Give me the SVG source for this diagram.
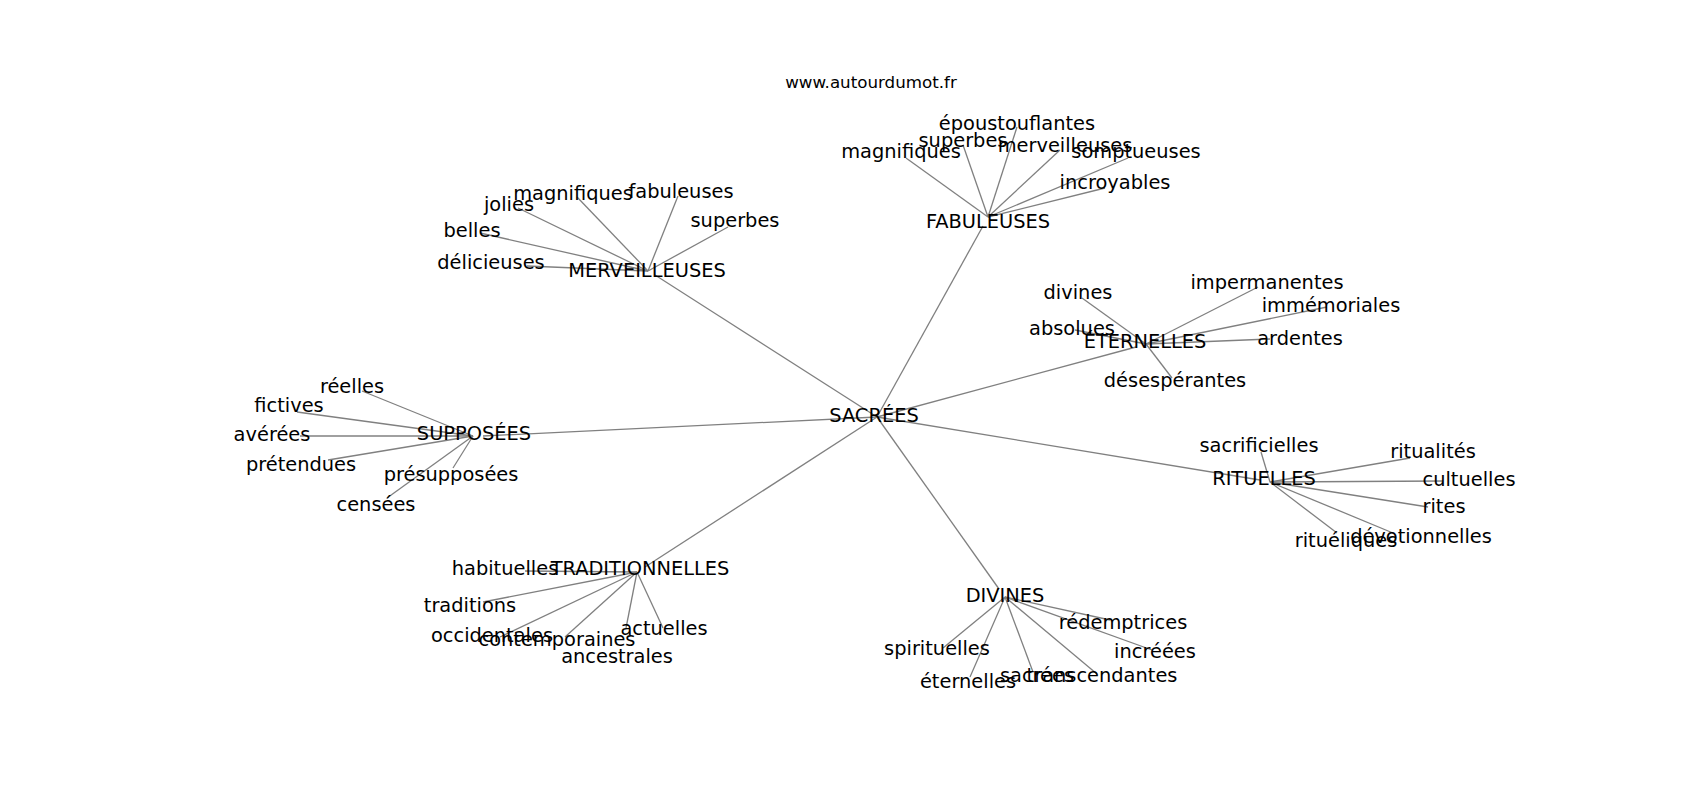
<svg xmlns="http://www.w3.org/2000/svg" width="1700" height="800" viewBox="0 0 1700 800">
<style>
.e{stroke:#808080;stroke-width:1.3;fill:none}
text{font-family:"DejaVu Sans","Liberation Sans",sans-serif;font-size:19.4px;fill:#000;text-anchor:middle}
.t{font-size:16.7px}
</style>
<rect width="1700" height="800" fill="#fff"/>
<g id="connectors">
<line class="e" x1="877" y1="417" x2="655" y2="275"/>
<line class="e" x1="877" y1="417" x2="983" y2="226"/>
<line class="e" x1="877" y1="417" x2="1136" y2="347"/>
<line class="e" x1="877" y1="417" x2="1260" y2="480"/>
<line class="e" x1="877" y1="417" x2="999" y2="589"/>
<line class="e" x1="877" y1="417" x2="645" y2="567"/>
<line class="e" x1="877" y1="417" x2="483" y2="436"/>
<!-- MERVEILLEUSES -->
<line class="e" x1="648" y1="271" x2="527" y2="266"/>
<line class="e" x1="648" y1="271" x2="480" y2="233"/>
<line class="e" x1="648" y1="271" x2="518" y2="208"/>
<line class="e" x1="648" y1="271" x2="577" y2="197"/>
<line class="e" x1="648" y1="271" x2="678" y2="196"/>
<line class="e" x1="648" y1="271" x2="728" y2="227"/>
<!-- FABULEUSES -->
<line class="e" x1="988" y1="217" x2="906" y2="158"/>
<line class="e" x1="988" y1="217" x2="963" y2="145"/>
<line class="e" x1="988" y1="217" x2="1017" y2="127"/>
<line class="e" x1="988" y1="217" x2="1060" y2="150"/>
<line class="e" x1="988" y1="217" x2="1128" y2="158"/>
<line class="e" x1="988" y1="217" x2="1105" y2="188"/>
<!-- ETERNELLES -->
<line class="e" x1="1146" y1="344" x2="1082" y2="298"/>
<line class="e" x1="1146" y1="344" x2="1075" y2="330"/>
<line class="e" x1="1146" y1="344" x2="1258" y2="287"/>
<line class="e" x1="1146" y1="344" x2="1327" y2="307"/>
<line class="e" x1="1146" y1="344" x2="1270" y2="339"/>
<line class="e" x1="1146" y1="344" x2="1172" y2="378"/>
<!-- RITUELLES -->
<line class="e" x1="1270" y1="482" x2="1261" y2="452"/>
<line class="e" x1="1270" y1="482" x2="1410" y2="458"/>
<line class="e" x1="1270" y1="482" x2="1443" y2="481"/>
<line class="e" x1="1270" y1="482" x2="1428" y2="507"/>
<line class="e" x1="1270" y1="482" x2="1393" y2="533"/>
<line class="e" x1="1270" y1="482" x2="1337" y2="533"/>
<!-- DIVINES -->
<line class="e" x1="1005" y1="597" x2="1110" y2="620"/>
<line class="e" x1="1005" y1="597" x2="1152" y2="650"/>
<line class="e" x1="1005" y1="597" x2="1033" y2="672"/>
<line class="e" x1="1005" y1="597" x2="1097" y2="674"/>
<line class="e" x1="1005" y1="597" x2="943" y2="648"/>
<line class="e" x1="1005" y1="597" x2="970" y2="677"/>
<!-- TRADITIONNELLES -->
<line class="e" x1="637" y1="572" x2="525" y2="571"/>
<line class="e" x1="637" y1="572" x2="483" y2="602"/>
<line class="e" x1="637" y1="572" x2="500" y2="637"/>
<line class="e" x1="637" y1="572" x2="565" y2="637"/>
<line class="e" x1="637" y1="572" x2="663" y2="628"/>
<line class="e" x1="637" y1="572" x2="626" y2="628"/>
<!-- SUPPOSEES -->
<line class="e" x1="473" y1="436" x2="362" y2="391"/>
<line class="e" x1="473" y1="436" x2="297" y2="412"/>
<line class="e" x1="473" y1="436" x2="300" y2="436"/>
<line class="e" x1="473" y1="436" x2="328" y2="460"/>
<line class="e" x1="473" y1="436" x2="453" y2="468"/>
<line class="e" x1="473" y1="436" x2="387" y2="498"/>
</g>
<text class="t" x="871" y="88">www.autourdumot.fr</text>
<g id="n-sacrees"><text x="874" y="422">SACRÉES</text></g>
<g id="n-merveilleuses"><text x="647" y="277">MERVEILLEUSES</text></g>
<g id="n-fabuleuses"><text x="988" y="228">FABULEUSES</text></g>
<g id="n-eternelles"><text x="1145" y="348">ÉTERNELLES</text></g>
<g id="n-rituelles"><text x="1264" y="485">RITUELLES</text></g>
<g id="n-divines"><text x="1005" y="602">DIVINES</text></g>
<g id="n-traditionnelles"><text x="640" y="575">TRADITIONNELLES</text></g>
<g id="n-supposees"><text x="474" y="440">SUPPOSÉES</text></g>
<g id="n-m-magnifiques"><text x="573" y="200">magnifiques</text></g>
<g id="n-m-fabuleuses"><text x="681" y="198">fabuleuses</text></g>
<g id="n-m-jolies"><text x="509" y="211">jolies</text></g>
<g id="n-m-superbes"><text x="735" y="227">superbes</text></g>
<g id="n-m-belles"><text x="472" y="237">belles</text></g>
<g id="n-m-delicieuses"><text x="491" y="269">délicieuses</text></g>
<g id="n-f-epoustouflantes"><text x="1017" y="130">époustouflantes</text></g>
<g id="n-f-superbes"><text x="963" y="147">superbes</text></g>
<g id="n-f-merveilleuses"><text x="1065" y="152">merveilleuses</text></g>
<g id="n-f-magnifiques"><text x="901" y="158">magnifiques</text></g>
<g id="n-f-somptueuses"><text x="1136" y="158">somptueuses</text></g>
<g id="n-f-incroyables"><text x="1115" y="189">incroyables</text></g>
<g id="n-e-divines"><text x="1078" y="299">divines</text></g>
<g id="n-e-absolues"><text x="1072" y="335">absolues</text></g>
<g id="n-e-impermanentes"><text x="1267" y="289">impermanentes</text></g>
<g id="n-e-immemoriales"><text x="1331" y="312">immémoriales</text></g>
<g id="n-e-ardentes"><text x="1300" y="345">ardentes</text></g>
<g id="n-e-desesperantes"><text x="1175" y="387">désespérantes</text></g>
<g id="n-r-sacrificielles"><text x="1259" y="452">sacrificielles</text></g>
<g id="n-r-ritualites"><text x="1433" y="458">ritualités</text></g>
<g id="n-r-cultuelles"><text x="1469" y="486">cultuelles</text></g>
<g id="n-r-rites"><text x="1444" y="513">rites</text></g>
<g id="n-r-devotionnelles"><text x="1421" y="543">dévotionnelles</text></g>
<g id="n-r-rituéliques"><text x="1346" y="547">rituéliques</text></g>
<g id="n-d-redemptrices"><text x="1123" y="629">rédemptrices</text></g>
<g id="n-d-increees"><text x="1155" y="658">incréées</text></g>
<g id="n-d-sacrees"><text x="1037" y="682">sacrées</text></g>
<g id="n-d-transcendantes"><text x="1102" y="682">transcendantes</text></g>
<g id="n-d-spirituelles"><text x="937" y="655">spirituelles</text></g>
<g id="n-d-eternelles"><text x="968" y="688">éternelles</text></g>
<g id="n-t-habituelles"><text x="505" y="575">habituelles</text></g>
<g id="n-t-traditions"><text x="470" y="612">traditions</text></g>
<g id="n-t-occidentales"><text x="492" y="642">occidentales</text></g>
<g id="n-t-contemporaines"><text x="557" y="646">contemporaines</text></g>
<g id="n-t-actuelles"><text x="664" y="635">actuelles</text></g>
<g id="n-t-ancestrales"><text x="617" y="663">ancestrales</text></g>
<g id="n-s-reelles"><text x="352" y="393">réelles</text></g>
<g id="n-s-fictives"><text x="289" y="412">fictives</text></g>
<g id="n-s-averees"><text x="272" y="441">avérées</text></g>
<g id="n-s-pretendues"><text x="301" y="471">prétendues</text></g>
<g id="n-s-presupposees"><text x="451" y="481">présupposées</text></g>
<g id="n-s-censees"><text x="376" y="511">censées</text></g>
</svg>
